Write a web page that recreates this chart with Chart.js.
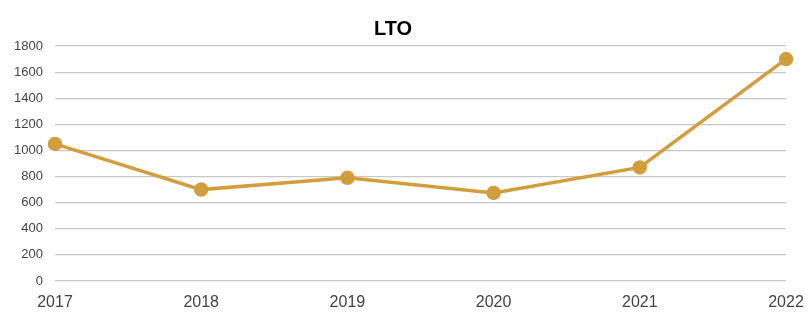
<!DOCTYPE html>
<html>
<head>
<meta charset="utf-8">
<style>
  html, body { margin: 0; padding: 0; background: #ffffff; }
  #wrap { width: 808px; height: 312px; }
</style>
<script src="https://cdn.jsdelivr.net/npm/chart.js@4"></script>
</head>
<body>
<div id="wrap"><canvas id="ltoChart" width="808" height="312"></canvas></div>
<script>
const years = ["2017", "2018", "2019", "2020", "2021", "2022"];
const ltoValues = [1050, 700, 790, 675, 870, 1700];
const yTicks = [0, 200, 400, 600, 800, 1000, 1200, 1400, 1600, 1800];

const gold = "#d29e3c";

const ctx = document.getElementById("ltoChart").getContext("2d");
new Chart(ctx, {
  type: "line",
  data: {
    labels: years,
    datasets: [{
      label: "LTO",
      data: ltoValues,
      borderColor: gold,
      backgroundColor: gold,
      borderWidth: 3.5,
      pointRadius: 5.5,
      pointBackgroundColor: gold,
      pointBorderColor: gold,
      tension: 0
    }]
  },
  options: {
    responsive: false,
    animation: false,
    layout: { padding: { left: 0, right: 22, top: 0, bottom: 0 } },
    scales: {
      x: {
        offset: false,
        afterFit: axis => { axis.height = 31; },
        grid: { display: false },
        border: { display: false },
        ticks: {
          color: "#444444",
          padding: 4,
          maxRotation: 0,
          font: { family: "Liberation Sans", size: 16 }
        }
      },
      y: {
        min: 0,
        max: 1800,
        afterBuildTicks: axis => { axis.ticks = yTicks.map(v => ({ value: v })); },
        afterFit: axis => { axis.width = 55; },
        grid: { color: "#c8c8c8", lineWidth: 1.2, drawTicks: false },
        border: { display: false },
        ticks: {
          color: "#444444",
          padding: 12,
          callback: v => String(v),
          font: { family: "Liberation Sans", size: 13 }
        }
      }
    },
    plugins: {
      legend: { display: false },
      tooltip: { enabled: false },
      title: {
        display: true,
        text: "LTO",
        color: "#000000",
        padding: { top: 17, bottom: 5 },
        font: { family: "Liberation Sans", size: 20, weight: "bold" }
      }
    }
  }
});
</script>
</body>
</html>
